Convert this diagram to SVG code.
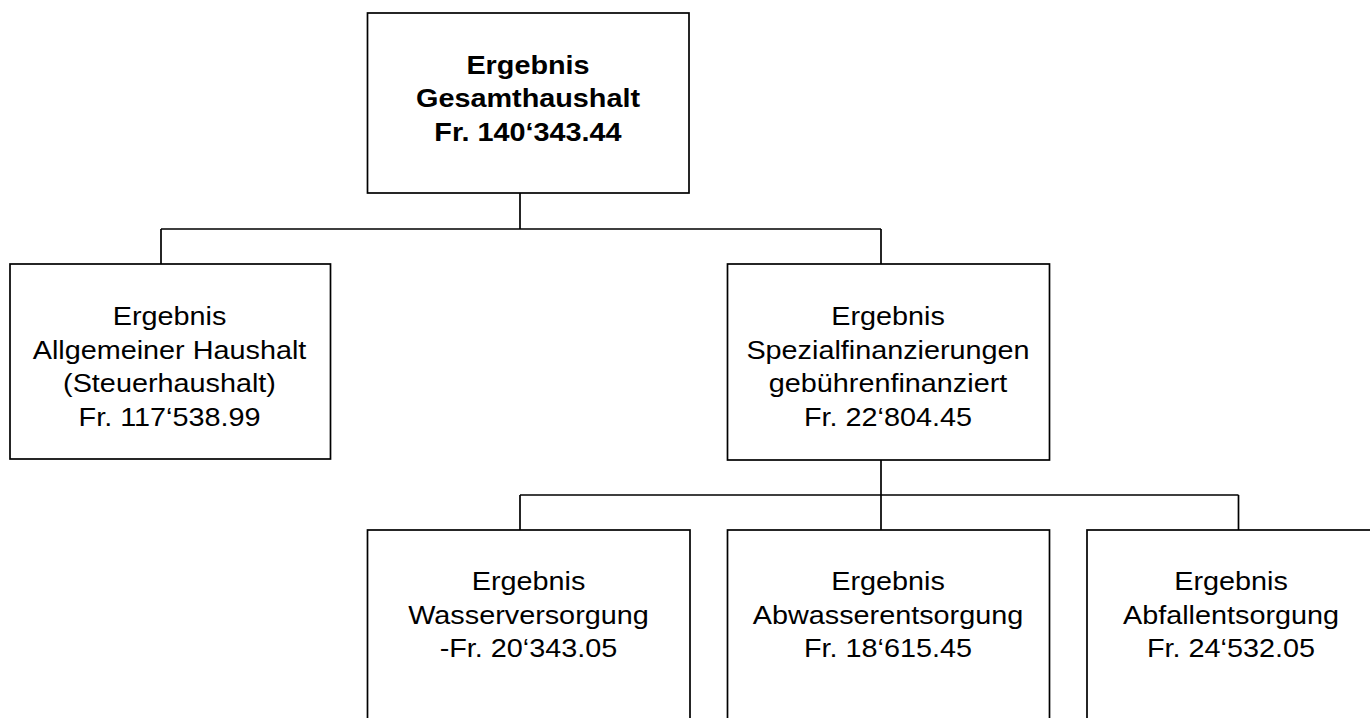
<svg xmlns="http://www.w3.org/2000/svg" width="1370" height="718" viewBox="0 0 1370 718">
<style>
  .box { fill: #ffffff; stroke: #000000; stroke-width: 1.7; }
  .conn { fill: none; stroke: #000000; stroke-width: 1.7; }
  .t { font-family: "Liberation Sans", Arial, sans-serif; font-size: 25px; fill: #000000; text-anchor: middle; }
  .b { font-weight: bold; }
</style>
<rect width="1370" height="718" fill="#ffffff"/>
<g id="connectors">
  <path class="conn" d="M520,193 V229 M161,229 H881 M161,229 V264 M881,229 V264"/>
  <path class="conn" d="M881,460 V495 M520,495 H1238.5 M520,495 V530 M881,495 V530 M1238.5,495 V530"/>
</g>
<g id="gesamthaushalt">
  <rect class="box" x="367.5" y="13" width="321.5" height="180"/>
  <text class="t b" transform="matrix(1.152 0 0 1 528 0)"><tspan x="0" y="74">Ergebnis</tspan><tspan x="0" y="107.5">Gesamthaushalt</tspan><tspan x="0" y="141">Fr. 140‘343.44</tspan></text>
</g>
<g id="allgemeiner">
  <rect class="box" x="10" y="264" width="320.5" height="195"/>
  <text class="t" transform="matrix(1.152 0 0 1 169.5 0)"><tspan x="0" y="325">Ergebnis</tspan><tspan x="0" y="359">Allgemeiner Haushalt</tspan><tspan x="0" y="392.5">(Steuerhaushalt)</tspan><tspan x="0" y="426">Fr. 117‘538.99</tspan></text>
</g>
<g id="spezialfinanzierungen">
  <rect class="box" x="727.5" y="264" width="322" height="196"/>
  <text class="t" transform="matrix(1.152 0 0 1 888 0)"><tspan x="0" y="325.5">Ergebnis</tspan><tspan x="0" y="359">Spezialfinanzierungen</tspan><tspan x="0" y="392.5">gebührenfinanziert</tspan><tspan x="0" y="426">Fr. 22‘804.45</tspan></text>
</g>
<g id="wasserversorgung">
  <rect class="box" x="367.5" y="530" width="322.5" height="200"/>
  <text class="t" transform="matrix(1.152 0 0 1 528.5 0)"><tspan x="0" y="590.5">Ergebnis</tspan><tspan x="0" y="624">Wasserversorgung</tspan><tspan x="0" y="657.5">-Fr. 20‘343.05</tspan></text>
</g>
<g id="abwasserentsorgung">
  <rect class="box" x="727.5" y="530" width="322" height="200"/>
  <text class="t" transform="matrix(1.152 0 0 1 888 0)"><tspan x="0" y="590.5">Ergebnis</tspan><tspan x="0" y="624">Abwasserentsorgung</tspan><tspan x="0" y="657.5">Fr. 18‘615.45</tspan></text>
</g>
<g id="abfallentsorgung">
  <rect class="box" x="1087" y="530" width="322" height="200"/>
  <text class="t" transform="matrix(1.152 0 0 1 1231 0)"><tspan x="0" y="590.5">Ergebnis</tspan><tspan x="0" y="624">Abfallentsorgung</tspan><tspan x="0" y="657.5">Fr. 24‘532.05</tspan></text>
</g>
</svg>
